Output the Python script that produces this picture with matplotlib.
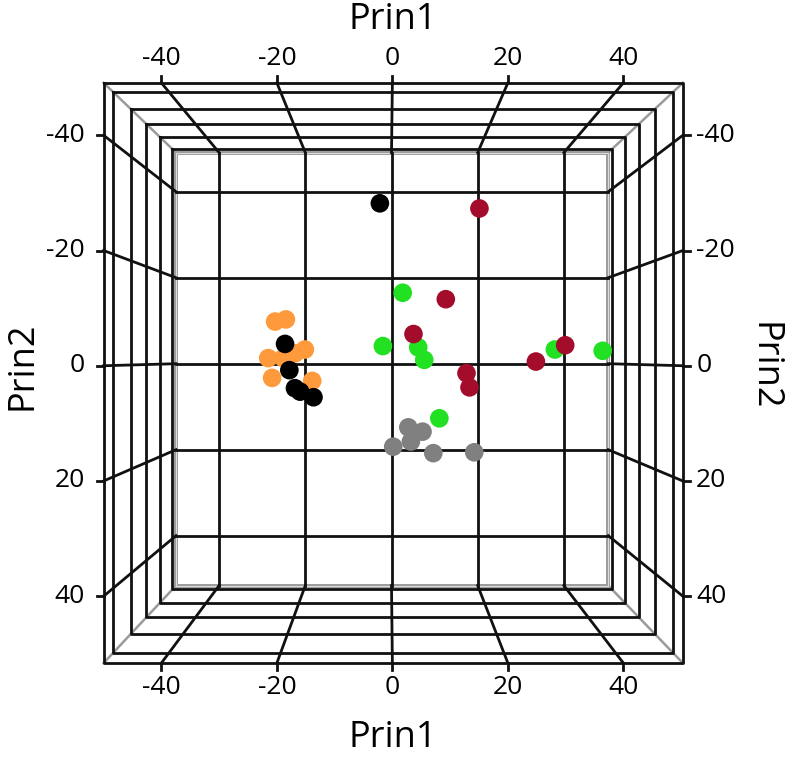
import matplotlib
matplotlib.use("Agg")
import matplotlib.pyplot as plt

plt.rcParams['font.family'] = ['Open Sans', 'DejaVu Sans']

# apparent positions of the points, read against the back wall grid (Prin1, Prin2)
black_p1 = [-2.7, -24.7, -23.7, -22.4, -21.2, -18.1]
black_p2 = [-37.3, -4.6, 1.5, 5.7, 6.5, 7.8]
orange_p1 = [-27.0, -24.5, -28.6, -25.1, -22.4, -20.1, -27.7, -18.4]
orange_p2 = [-9.8, -10.3, -1.3, -1.3, -2.4, -3.3, 3.3, 4.0]
green_p1 = [2.6, -2.0, 6.2, 7.6, 11.1, 37.9, 49.0]
green_p2 = [-16.5, -4.1, -3.8, -0.9, 12.7, -3.3, -3.0]
red_p1 = [20.4, 12.6, 5.1, 17.4, 18.1, 33.5, 40.3]
red_p2 = [-36.1, -15.0, -6.9, 2.2, 5.5, -0.5, -4.3]
gray_p1 = [3.9, 7.2, 4.5, 0.4, 9.7, 19.2]
gray_p2 = [14.8, 15.8, 18.1, 19.3, 20.8, 20.6]

ticks = [-40, -20, 0, 20, 40]
tick_labels = ["-40", "-20", "0", "20", "40"]
x_range = (-50.0, 50.3)
y_range = (-49.1, 51.6)
z_range = (-49.7, 46.2)  # front, back

# simple perspective: back wall drawn 1:1, front wall enlarged
vanish = (-0.6, -1.4)
depth_ratio = 1.34


def scale(z):
    w = 1 - (1 - 1 / depth_ratio) * (z_range[1] - z) / (z_range[1] - z_range[0])
    return 1 / w


def proj(x, y, z):
    s = scale(z)
    return vanish[0] + (x - vanish[0]) * s, vanish[1] + (y - vanish[1]) * s


def rect(z):
    pts = [proj(x_range[0], y_range[0], z), proj(x_range[1], y_range[0], z),
           proj(x_range[1], y_range[1], z), proj(x_range[0], y_range[1], z),
           proj(x_range[0], y_range[0], z)]
    return [p[0] for p in pts], [p[1] for p in pts]


fig = plt.figure(figsize=(7.87, 7.58), dpi=100)
ax = fig.add_axes([0, 0, 1, 1])
ax.set_xlim(-391.5 / 4.31, (787 - 391.5) / 4.31)
ax.set_ylim((758 - 363.7) / 4.3, -363.7 / 4.3)
ax.axis("off")

lw = 2.0
zf, zb = z_range

# frames on the walls
for z in ticks + [zf]:
    xs, ys = rect(z)
    ax.plot(xs, ys, color="#111111", lw=lw, zorder=2)

# back wall border
xs, ys = rect(zb)
ax.plot(xs, ys, color="#999999", lw=2.8, zorder=2)
ax.plot(xs, ys, color="#dcdcdc", lw=0.8, zorder=2)

# corner edges
for cx in x_range:
    for cy in y_range:
        a = proj(cx, cy, zb)
        b = proj(cx, cy, zf)
        ax.plot([a[0], b[0]], [a[1], b[1]], color="#9a9a9a", lw=1.8, zorder=1)

# grid on back wall
for t in ticks:
    ax.plot([t, t], [y_range[0], y_range[1]], color="#111111", lw=lw, zorder=2)
    ax.plot([x_range[0], x_range[1]], [t, t], color="#111111", lw=lw, zorder=2)

tl = 1.6
fs = 19
for t, lab in zip(ticks, tick_labels):
    # top and bottom walls
    for yy, sign in [(y_range[0], -1), (y_range[1], 1)]:
        a = proj(t, yy, zb)
        b = proj(t, yy, zf)
        ax.plot([a[0], b[0]], [a[1], b[1]], color="#111111", lw=lw, zorder=2)
        ax.plot([b[0], b[0]], [b[1], b[1] + sign * tl], color="#111111", lw=lw, zorder=2)
        ax.text(b[0], b[1] + sign * 5.6, lab, ha="center", va="center", fontsize=fs)
    # left and right walls
    for xx, sign in [(x_range[0], -1), (x_range[1], 1)]:
        a = proj(xx, t, zb)
        b = proj(xx, t, zf)
        ax.plot([a[0], b[0]], [a[1], b[1]], color="#111111", lw=lw, zorder=2)
        ax.plot([b[0], b[0] + sign * tl], [b[1], b[1]], color="#111111", lw=lw, zorder=2)
        if sign < 0:
            ax.text(b[0] - 4.4, b[1], lab, ha="right", va="center", fontsize=fs)
        else:
            ax.text(b[0] + 3.1, b[1], lab, ha="left", va="center", fontsize=fs)

ax.text(0.35, -79.9, "Prin1", ha="center", va="center", fontsize=26)
ax.text(0.35, 87.0, "Prin1", ha="center", va="center", fontsize=26)
ax.text(-85.6, 0.5, "Prin2", ha="center", va="center", fontsize=26, rotation=90)
ax.text(86.3, 0.5, "Prin2", ha="center", va="center", fontsize=26, rotation=270)

ms = 180
ax.scatter(orange_p1, orange_p2, s=ms, color="#FF9A3C", edgecolors="none", zorder=5)
ax.scatter(black_p1, black_p2, s=ms, color="black", edgecolors="none", zorder=5)
ax.scatter(green_p1, green_p2, s=ms, color="#22E022", edgecolors="none", zorder=5)
ax.scatter(red_p1, red_p2, s=ms, color="#A30D2B", edgecolors="none", zorder=5)
ax.scatter(gray_p1, gray_p2, s=ms, color="#808080", edgecolors="none", zorder=5)

fig.savefig("out.png", dpi=100)
